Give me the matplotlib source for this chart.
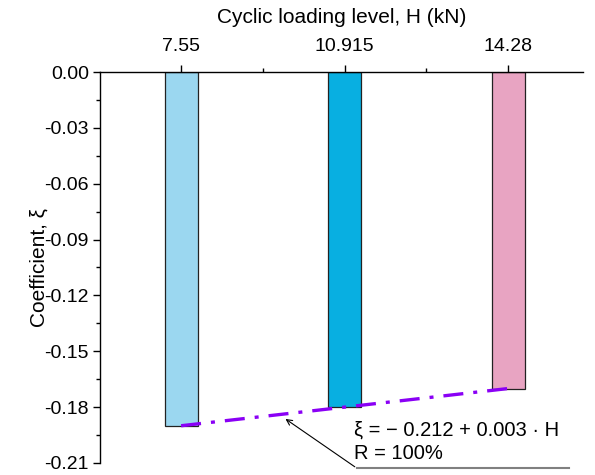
import numpy as np
import matplotlib
matplotlib.use('Agg')
import matplotlib.pyplot as plt
from matplotlib.ticker import FixedLocator, MultipleLocator, FormatStrFormatter

plt.rcParams['font.family'] = ['Liberation Sans', 'DejaVu Sans']
plt.rcParams['axes.unicode_minus'] = False

# loading levels and coefficient values
H = [7.55, 10.915, 14.28]
xi = [-0.19, -0.18, -0.17]
H_labels = ['7.55', '10.915', '14.28']
bar_colors = ['#9bd7f0', '#08afe1', '#e8a4c2']

fig = plt.figure(figsize=(5.95, 4.75), dpi=100)
ax = fig.add_axes([0.168, 0.0253, 0.812, 0.8231])

ax.bar(H, xi, width=0.68, color=bar_colors, edgecolor='#222222', linewidth=0.9, zorder=2)

# linear fit through the bars
k, b = np.polyfit(H, xi, 1)
xf = np.array([H[0], H[-1]])
ax.plot(xf, b + k * xf, color='#8a00f5', linestyle=(0, (6, 3, 1.2, 3)), linewidth=2.4, zorder=3)

ax.set_xlim(5.88, 15.82)
ax.set_ylim(-0.21, 0)

ax.xaxis.tick_top()
ax.xaxis.set_label_position('top')
ax.set_xticks(H)
ax.set_xticklabels(H_labels)
ax.xaxis.set_minor_locator(FixedLocator([(H[0] + H[1]) / 2, (H[1] + H[2]) / 2]))
ax.set_xlabel('Cyclic loading level, H (kN)', fontsize=15, labelpad=11)

ax.yaxis.set_major_locator(MultipleLocator(0.03))
ax.yaxis.set_minor_locator(MultipleLocator(0.015))
ax.yaxis.set_major_formatter(FormatStrFormatter('%.2f'))
ax.set_ylabel('Coefficient, ξ', fontsize=15, labelpad=-3)

ax.tick_params(which='major', direction='out', length=5, width=1, labelsize=14, pad=3)
ax.tick_params(axis='x', which='major', pad=7)
ax.tick_params(which='minor', direction='out', length=3, width=1)
ax.spines['right'].set_visible(False)
ax.spines['bottom'].set_visible(False)
ax.spines['top'].set_linewidth(1)
ax.spines['left'].set_linewidth(1)

# equation callout
ax.annotate('', xy=(9.65, -0.1855), xytext=(11.17, -0.2129),
            arrowprops=dict(arrowstyle='->', color='black', lw=0.8),
            annotation_clip=False)
ax.plot([11.17, 15.52], [-0.2129, -0.2129], color='#808080', lw=1.5, clip_on=False)
ax.text(11.1, -0.1925, 'ξ = − 0.212 + 0.003 · H', fontsize=14.5, va='center', ha='left')
ax.text(11.1, -0.2048, 'R = 100%', fontsize=14.5, va='center', ha='left')

plt.savefig('out.png', dpi=100)
